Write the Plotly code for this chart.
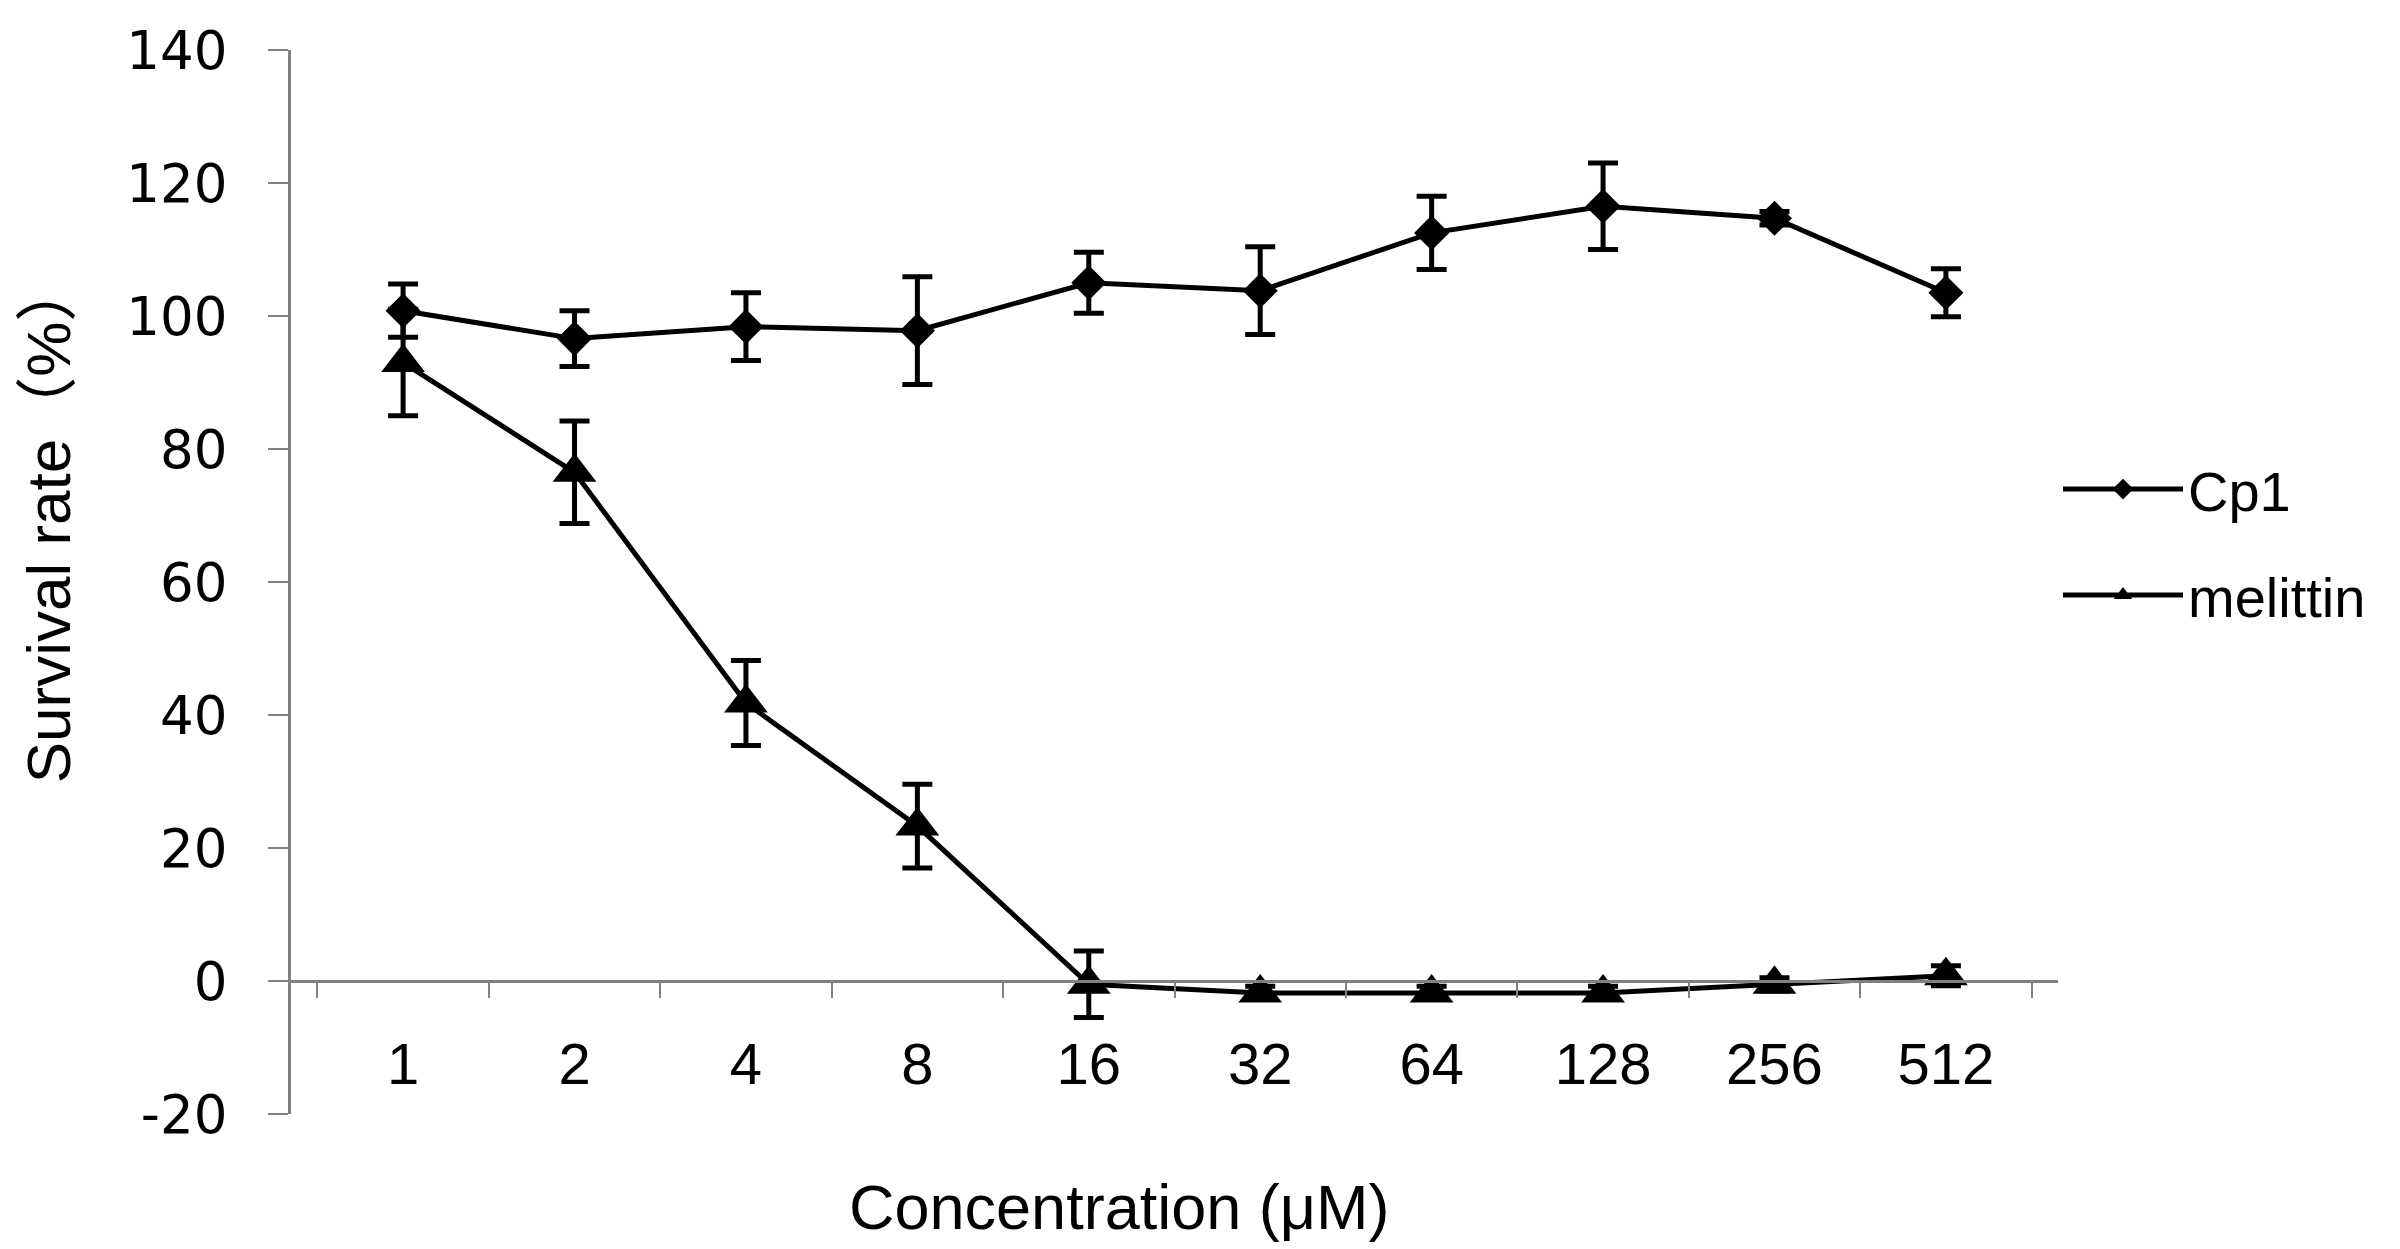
import plotly.graph_objects as go

concentrations = ["1", "2", "4", "8", "16", "32", "64", "128", "256", "512"]
cp1_values = [100.8, 96.6, 98.4, 97.8, 105.0, 103.8, 112.5, 116.5, 114.7, 103.5]
cp1_errors = [4.0, 4.2, 5.1, 8.1, 4.6, 6.6, 5.5, 6.5, 1.0, 3.6]
melittin_values = [93.0, 76.5, 41.8, 23.3, -0.5, -1.8, -1.8, -1.8, -0.5, 0.8]
melittin_errors = [8.0, 7.7, 6.4, 6.3, 5.0, 1.0, 1.0, 1.0, 1.0, 1.5]
y_ticks = [-20, 0, 20, 40, 60, 80, 100, 120, 140]
y_tick_labels = ["-20", "0", "20", "40", "60", "80", "100", "120", "140"]

W, H = 2400, 1249
L, R, T, B = 283, 350, 36, 143
pw, ph = W - L - R, H - T - B

fig = go.Figure()
fig.add_trace(go.Scatter(
    x=concentrations, y=cp1_values, name="Cp1", mode="lines+markers",
    line=dict(color="black", width=5),
    marker=dict(symbol="diamond", size=27, color="black"),
    error_y=dict(type="data", array=cp1_errors, visible=True, color="black", thickness=5, width=15),
    legendgroup="a",
))
fig.add_trace(go.Scatter(
    x=concentrations, y=melittin_values, name="melittin", mode="lines+markers",
    line=dict(color="black", width=5),
    marker=dict(symbol="triangle-up", size=38, color="black"),
    error_y=dict(type="data", array=melittin_errors, visible=True, color="black", thickness=5, width=15),
    legendgroup="b",
))

fig.update_layout(
    width=W, height=H,
    margin=dict(l=L, r=R, t=T, b=B),
    paper_bgcolor="white", plot_bgcolor="white",
    showlegend=True,
    legend=dict(
        x=1.0, xanchor="left", y=(H - B - 531) / ph, yanchor="middle",
        font=dict(family="Liberation Sans, Arial", size=56, color="black"),
        bgcolor="rgba(0,0,0,0)", tracegroupgap=30, itemwidth=120,
    ),
    xaxis=dict(
        type="category", categoryarray=concentrations,
        anchor="free", position=20 / 160,
        showline=True, linecolor="#808080", linewidth=3,
        ticks="outside", tickson="boundaries", ticklen=15, tickwidth=2, tickcolor="#808080",
        tickfont=dict(family="Liberation Sans Narrow, Liberation Sans, Arial", size=58, color="black"),
        ticklabelstandoff=31,
        showgrid=False, zeroline=False,
    ),
    yaxis=dict(
        range=[-20, 140], tickvals=y_ticks, ticktext=y_tick_labels,
        showline=True, linecolor="#808080", linewidth=3,
        ticks="outside", ticklen=20, tickwidth=2, tickcolor="#808080",
        tickfont=dict(family="DejaVu Sans", size=53, color="black"),
        ticklabelstandoff=30,
        showgrid=False, zeroline=False,
    ),
    annotations=[
        dict(text="Concentration (μM)", xref="paper", yref="paper",
             x=(1111 - L) / pw, y=(H - B - 1200) / ph, xanchor="center", yanchor="middle",
             showarrow=False, font=dict(family="Liberation Sans, Arial", size=63, color="black")),
        dict(text="Survival rate（%）", xref="paper", yref="paper",
             x=(40 - L) / pw, y=(H - B - 510) / ph, xanchor="center", yanchor="middle",
             textangle=-90, showarrow=False,
             font=dict(family="Liberation Sans, Noto Sans CJK SC, Arial", size=62, color="black")),
    ],
)

fig.write_html("out.html")
